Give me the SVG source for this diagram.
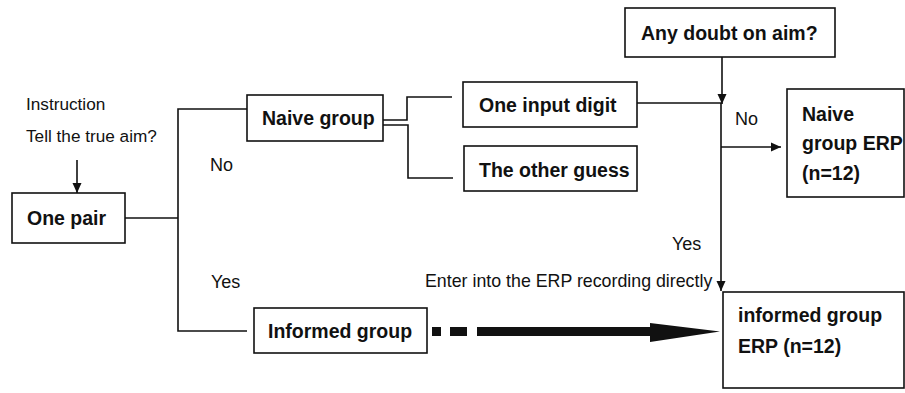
<svg xmlns="http://www.w3.org/2000/svg" width="905" height="393" viewBox="0 0 905 393">
<defs>
<style>
.box{fill:#fff;stroke:#111;stroke-width:1.6}
.ln{fill:none;stroke:#111;stroke-width:1.6}
.b{font-family:"Liberation Sans",Arial,sans-serif;font-weight:bold;font-size:19.5px;fill:#111}
.r{font-family:"Liberation Sans",Arial,sans-serif;font-size:18px;fill:#111}
.s{font-family:"Liberation Sans",Arial,sans-serif;font-size:17.2px;fill:#111}
</style>
<marker id="ah" markerWidth="10" markerHeight="12" refX="10" refY="6" orient="auto" markerUnits="userSpaceOnUse">
<path d="M0,1.5 L10,6 L0,10.5 Z" fill="#111"/>
</marker>
</defs>
<rect width="905" height="393" fill="#fff"/>
<g id="connectors">
<path class="ln" d="M77,160 V193" marker-end="url(#ah)"/>
<path class="ln" d="M125,218 H178"/>
<path class="ln" d="M247,109 H178 V331 H247"/>
<path class="ln" d="M383,120 H407 V97 H452"/>
<path class="ln" d="M383,125 H408 V178 H453"/>
<path class="ln" d="M722,57 V104" marker-end="url(#ah)"/>
<path class="ln" d="M637,103 H721 V291" marker-end="url(#ah)"/>
<path class="ln" d="M721,147 H781" marker-end="url(#ah)"/>
<path fill="#111" d="M432,327 h9 v9 h-9 Z M450,327 h17 v9 h-17 Z M477,327 H650 V323 L720,331.5 L650,342 V336 H477 Z"/>
</g>
<g id="instruction">
<text class="s" x="26" y="110">Instruction</text>
<text class="s" x="26" y="142">Tell the true aim?</text>
</g>
<g id="one-pair">
<rect class="box" x="12" y="193" width="113" height="50"/>
<text class="b" x="27" y="225">One pair</text>
</g>
<g id="naive-group">
<rect class="box" x="247" y="95" width="136" height="46"/>
<text class="b" x="262" y="125">Naive group</text>
</g>
<g id="one-input-digit">
<rect class="box" x="463" y="82" width="174" height="45"/>
<text class="b" x="479" y="112">One input digit</text>
</g>
<g id="other-guess">
<rect class="box" x="464" y="146" width="173" height="45"/>
<text class="b" x="479" y="177">The other guess</text>
</g>
<g id="any-doubt">
<rect class="box" x="625" y="8" width="210" height="49"/>
<text class="b" x="641" y="40">Any doubt on aim?</text>
</g>
<g id="naive-erp">
<rect class="box" x="787" y="89" width="117" height="108"/>
<text class="b" x="802" y="121">Naive</text>
<text class="b" x="802" y="150">group ERP</text>
<text class="b" x="802" y="180">(n=12)</text>
</g>
<g id="informed-group">
<rect class="box" x="254" y="308" width="173" height="45"/>
<text class="b" x="268" y="338">Informed group</text>
</g>
<g id="informed-erp">
<rect class="box" x="723" y="292" width="181" height="96"/>
<text class="b" x="738" y="322">informed group</text>
<text class="b" x="738" y="353">ERP (n=12)</text>
</g>
<g id="labels">
<text class="r" x="210" y="171">No</text>
<text class="r" x="211" y="288">Yes</text>
<text class="r" x="735" y="125">No</text>
<text class="r" x="672" y="250">Yes</text>
<text class="s" x="425" y="287" style="font-size:17.8px">Enter into the ERP recording directly</text>
</g>
</svg>
